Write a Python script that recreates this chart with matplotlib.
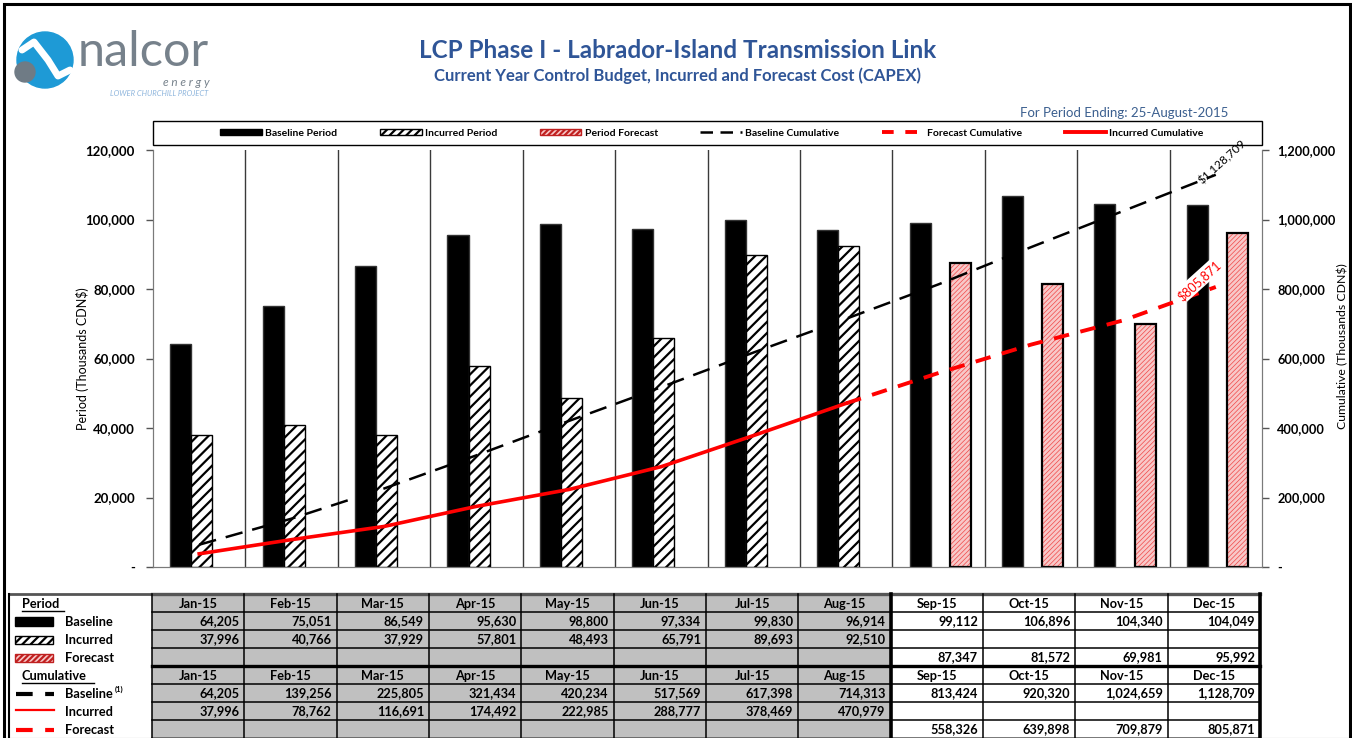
import matplotlib
matplotlib.use("Agg")
import matplotlib.pyplot as plt
from matplotlib.patches import Rectangle, Patch, Circle
from matplotlib.lines import Line2D
import numpy as np

plt.rcParams["font.family"] = ["Lato", "DejaVu Sans"]
plt.rcParams["hatch.linewidth"] = 1.6

MONTHS = ["Jan-15", "Feb-15", "Mar-15", "Apr-15", "May-15", "Jun-15",
          "Jul-15", "Aug-15", "Sep-15", "Oct-15", "Nov-15", "Dec-15"]
BASELINE = [64205, 75051, 86549, 95630, 98800, 97334, 99830, 96914,
            99112, 106896, 104340, 104049]
INCURRED = [37996, 40766, 37929, 57801, 48493, 65791, 89693, 92510]
FORECAST = [87347, 81572, 69981, 95992]
BASELINE_CUM = [64205, 139256, 225805, 321434, 420234, 517569, 617398, 714313,
                813424, 920320, 1024659, 1128709]
INCURRED_CUM = [37996, 78762, 116691, 174492, 222985, 288777, 378469, 470979]
FORECAST_CUM = [558326, 639898, 709879, 805871]

BLUE = "#2f5597"
PINK = "#f8c8c8"
HATCH_RED = "#f04848"
W, H = 1352, 738


def fx(px):
    return px / W


def fy(py):
    return 1 - py / H


def fmt(v):
    return "-" if v == 0 else f"{v:,}"


fig = plt.figure(figsize=(W / 100, H / 100), dpi=100)

# main chart
ax = fig.add_axes([fx(153), fy(567), fx(1262) - fx(153), fy(150) - fy(567)])
ax2 = ax.twinx()

x = np.arange(len(MONTHS))
n_inc = len(INCURRED)
xf = x[n_inc:]
bw = 0.228

ax.bar(x - 0.2, BASELINE, bw, color="black", edgecolor="#333333", lw=1, zorder=3)
ax.bar(x[:n_inc] + 0.028, INCURRED, bw, color="white", edgecolor="black",
       hatch="///", lw=1, zorder=3)
with plt.rc_context({"hatch.linewidth": 0.5}):
    ax.bar(xf + 0.235, FORECAST, bw, color=PINK, edgecolor=HATCH_RED,
           hatch="///////", lw=0, zorder=3)
ax.bar(xf + 0.235, FORECAST, bw, color="none", edgecolor="black", lw=1.6, zorder=4)

for k in range(len(MONTHS) - 1):
    ax.axvline(k + 0.5, color="#3a3a3a", lw=1, zorder=1)

ax.set_xlim(-0.5, len(MONTHS) - 0.5)
ax.set_ylim(0, 120000)
ax2.set_ylim(0, 1200000)
ax.set_xticks([])

lt = list(range(0, 120001, 20000))
ax.set_yticks(lt)
ax.set_yticklabels([fmt(v) for v in lt], fontweight="bold", fontsize=9.5)
rt = list(range(0, 1200001, 200000))
ax2.set_yticks(rt)
ax2.set_yticklabels([fmt(v) for v in rt], fontweight="bold", fontsize=9.2)
for a in (ax, ax2):
    a.tick_params(axis="y", direction="out", length=5, width=1, color="#555555", pad=8)
    a.spines["top"].set_visible(False)
    for s in ("left", "right", "bottom"):
        a.spines[s].set_color("#7a7a7a")
ax2.tick_params(axis="y", pad=6)
ax.set_ylabel("Period (Thousands CDN$)", fontsize=9)
ax.yaxis.set_label_coords(-0.0577, 0.5)
ax2.set_ylabel("Cumulative (Thousands CDN$)", fontsize=8.8, rotation=90)
ax2.yaxis.set_label_coords(1.0676, 0.53)

# cumulative lines
ax2.plot(x, BASELINE_CUM, color="black", lw=1.8, ls=(0, (7, 4)), zorder=5)
ax2.plot(x[:n_inc], INCURRED_CUM, color="#ff0000", lw=2.6, zorder=5)
fx_line = [x[n_inc - 1]] + list(xf)
fc_line = [INCURRED_CUM[-1]] + FORECAST_CUM
ax2.plot(fx_line, fc_line, color="#ff0000", lw=2.8, ls=(0, (4, 3)), zorder=5)

ax2.annotate(f"${BASELINE_CUM[-1]:,}", (x[-1], BASELINE_CUM[-1]),
             xytext=(-9, -8), textcoords="offset points", rotation=42,
             rotation_mode="anchor", ha="left", va="bottom", fontsize=8.5, zorder=6)
ax2.annotate(f"${FORECAST_CUM[-1]:,}", (x[-1], FORECAST_CUM[-1]),
             xytext=(-12, 5), textcoords="offset points", rotation=42,
             rotation_mode="anchor", ha="center", va="center", fontsize=9,
             color="#ff0000", zorder=6,
             bbox=dict(facecolor="white", edgecolor="none", pad=1.2))

# legend
handles = [
    Patch(facecolor="black", edgecolor="black"),
    Patch(facecolor="white", edgecolor="black", hatch="////"),
    Patch(facecolor=PINK, edgecolor="#c02020", hatch="//////"),
    Line2D([], [], color="black", lw=1.8, ls=(0, (5, 3))),
    Line2D([], [], color="#ff0000", lw=2.8, ls=(0, (3, 3))),
    Line2D([], [], color="#ff0000", lw=2.8),
]
labels = ["Baseline Period", "Incurred Period", "Period Forecast",
          "Baseline Cumulative", "Forecast Cumulative", "Incurred Cumulative"]
leg = fig.legend(handles, labels, loc="center", ncol=6,
                 bbox_to_anchor=(fx(712), fy(133)),
                 borderaxespad=0, frameon=False,
                 prop={"weight": "bold", "size": 7.5}, handlelength=4.0,
                 handleheight=0.6, handletextpad=0.3, columnspacing=4.1)

# overlay in pixel units: header, logo, table, border
ov = fig.add_axes([0, 0, 1, 1])
ov.set_xlim(0, W)
ov.set_ylim(H, 0)
ov.axis("off")
ov.patch.set_visible(False)

ov.add_patch(Rectangle((4, 4), W - 6, H - 3, fill=False, ec="black", lw=2.2))
ov.add_patch(Rectangle((153, 121), 1262 - 153, 24, fill=False, ec="black", lw=1))

ov.text(678, 50, "LCP Phase I - Labrador-Island Transmission Link", ha="center",
        va="center", fontsize=17.5, fontweight="bold", color=BLUE)
ov.text(678, 76, "Current Year Control Budget, Incurred and Forecast Cost (CAPEX)",
        ha="center", va="center", fontsize=12, fontweight="bold", color=BLUE)
ov.text(1228, 113, "For Period Ending: 25-August-2015", ha="right", va="center",
        fontsize=9.5, color="#3b5f8f")

# logo
ov.add_patch(Circle((45, 60), 28, color="#1e9ad6"))
ov.plot([22, 34, 48, 58, 70], [50, 42, 60, 76, 70], color="white", lw=5,
        solid_capstyle="round")
ov.add_patch(Circle((25, 72), 10, color="#6f7b85"))
ov.text(78, 52, "nalcor", ha="left", va="center", fontsize=35, color="#76818b")
ov.text(210, 82, "e n e r g y", ha="right", va="center", fontsize=8.5,
        style="italic", color="#76818b")
ov.text(208, 93, "LOWER CHURCHILL PROJECT", ha="right", va="center", fontsize=5.5,
        style="italic", color="#8fb6dd")

# data table
col_w = (1260 - 152) / len(MONTHS)
x_edges = [152 + i * col_w for i in range(len(MONTHS) + 1)]
y_edges = [594 + 18 * i for i in range(9)]
ov.add_patch(Rectangle((x_edges[0], y_edges[0]), x_edges[n_inc] - x_edges[0],
                       y_edges[-1] - y_edges[0], color="#c0c0c0", lw=0))
for i, y in enumerate(y_edges):
    ov.plot([152, 1260], [y, y], color="#555555" if i in (0, 8) else "black",
            lw=2.4 if i in (0, 4) else 1.1)
ov.plot([9, 152], [594, 594], color="#555555", lw=2)
for j, xe in enumerate(x_edges):
    ov.plot([xe, xe], [594, 738], color="black",
            lw=2.6 if j in (n_inc, len(MONTHS)) else 1.1)
ov.plot([9, 9], [594, 738], color="black", lw=1.5)

rows = [
    (0, MONTHS, 0), (1, BASELINE, 0), (2, INCURRED, 0), (3, FORECAST, n_inc),
    (4, MONTHS, 0), (5, BASELINE_CUM, 0), (6, INCURRED_CUM, 0), (7, FORECAST_CUM, n_inc),
]
for r, vals, start in rows:
    yc = (y_edges[r] + y_edges[r + 1]) / 2 + 0.5
    for k, v in enumerate(vals):
        c = start + k
        if isinstance(v, str):
            ov.text((x_edges[c] + x_edges[c + 1]) / 2, yc, v, ha="center",
                    va="center", fontsize=9.2, fontweight="bold")
        else:
            ov.text(x_edges[c + 1] - 5, yc, f"{v:,}", ha="right", va="center",
                    fontsize=9.2, fontweight="bold")

# row labels with small key symbols
def row_y(r):
    return (y_edges[r] + y_edges[r + 1]) / 2 + 0.5

for r, name, w_ in ((0, "Period", 42), (4, "Cumulative", 72)):
    ov.text(22, row_y(r), name, ha="left", va="center", fontsize=9.2, fontweight="bold")
    ov.plot([22, 22 + w_], [row_y(r) + 7, row_y(r) + 7], color="black", lw=1)

ov.add_patch(Rectangle((15, row_y(1) - 4.5), 38, 9, fc="black", ec="black"))
ov.add_patch(Rectangle((15, row_y(2) - 4), 38, 8, fc="white", ec="black",
                       hatch="////", lw=1))
ov.add_patch(Rectangle((15, row_y(3) - 4), 38, 8, fc=PINK, ec="#c02020",
                       hatch="//////", lw=1))
ov.plot([16, 54], [row_y(5), row_y(5)], color="black", lw=3, ls=(0, (4, 3)))
ov.plot([16, 54], [row_y(6) - 2, row_y(6) - 2], color="#ff0000", lw=1.6)
ov.plot([16, 54], [row_y(7), row_y(7)], color="#ff0000", lw=3, ls=(0, (4, 3)))
for r, name in ((1, "Baseline"), (2, "Incurred"), (3, "Forecast"),
                (5, "Baseline"), (6, "Incurred"), (7, "Forecast")):
    ov.text(65, row_y(r), name, ha="left", va="center", fontsize=9.2,
            fontweight="bold")
ov.text(115, row_y(5) - 4, "(1)", ha="left", va="center", fontsize=5.5,
        fontweight="bold")

fig.savefig("out.png", dpi=100)
